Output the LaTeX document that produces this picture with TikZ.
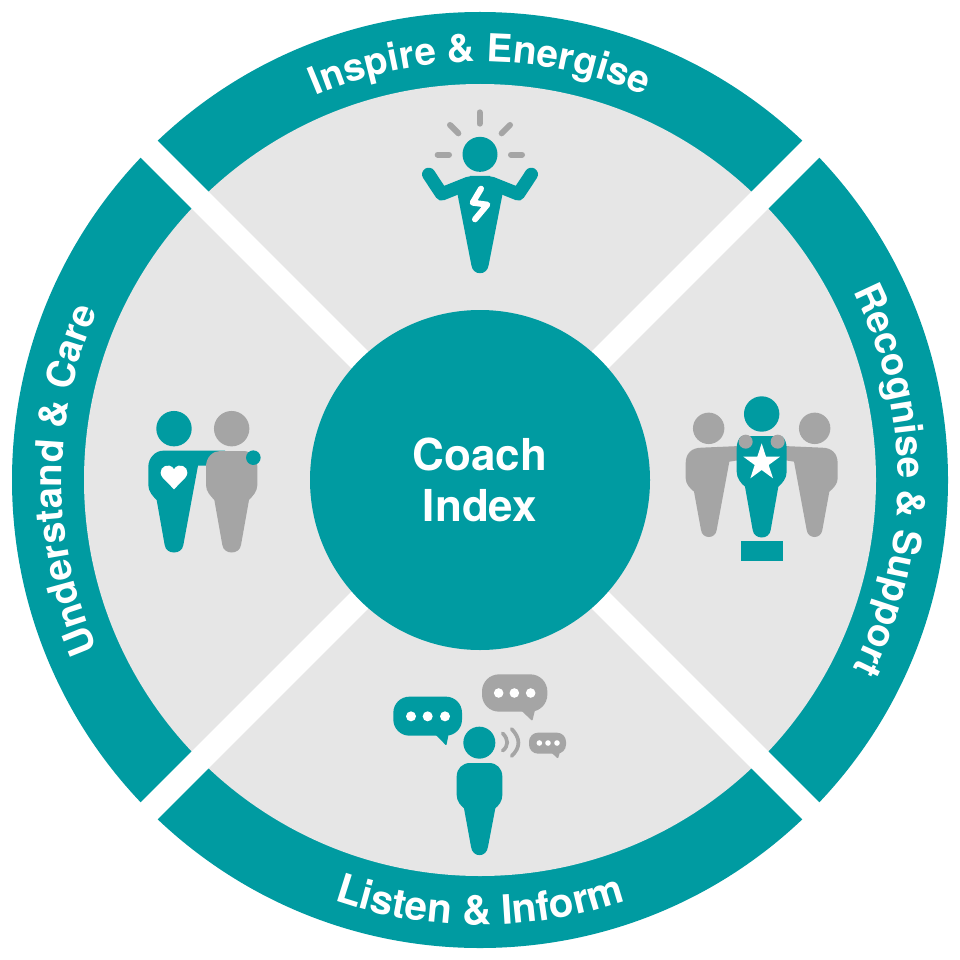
\documentclass[tikz,border=0pt]{standalone}
\usepackage{fontspec}
\setmainfont{TeX Gyre Heros}
\usetikzlibrary{decorations.text}
\definecolor{teal1}{HTML}{009BA1}
\definecolor{gray1}{HTML}{A5A5A5}
\definecolor{disk}{HTML}{E6E6E6}
\newcommand{\ringfont}{\fontsize{38.5}{38.5}\selectfont\bfseries}
\newcommand{\ringfontb}{\fontsize{40.5}{40.5}\selectfont\bfseries}
\newcommand{\ringtext}[5]{%
  \path[decorate,decoration={text along path,text color=white,text align=center,text={|#5|#4}}]
    ({480+#3*cos(#1)},{480-#3*sin(#1)}) arc[start angle=#1,end angle=#2,radius=#3 pt];}
\tikzset{
  teal fill/.style={fill=teal1,draw=none},
  band/.style={draw=white,line width=24pt},
  ray/.style={draw=gray1,line width=6pt,line cap=round},
  icon/.style={x=0.33333pt,y=-0.33333pt},
  label/.style={text=white,font=\fontsize{44}{51}\selectfont\bfseries,align=center}
}
\begin{document}
\begin{tikzpicture}[x=1pt,y=-1pt]
\useasboundingbox (0,0) rectangle (960,960);
\fill[white] (0,0) rectangle (960,960);
\fill[teal1] (480,480) circle[radius=468pt];
\fill[disk] (480,480) circle[radius=396pt];
\draw[band] (130,130) -- (830,830);
\draw[band] (830,130) -- (130,830);
\node[circle,teal fill,minimum size=340pt,inner sep=0pt,label] (hub) at (480,480) {Coach\\[0pt]Index};
\ringtext{150}{30}{418}{Inspire {\&} Energise}{\ringfont}
\ringtext{60}{-60}{418}{Recognise {\&} Support}{\ringfont}
\ringtext{240}{120}{418}{Understand {\&} Care}{\ringfont}
\ringtext{-120}{-60}{445}{Listen {\&} Inform}{\ringfontb}

% Inspire icon
\begin{scope}[shift={(400,90)},icon]
\draw[ray] (239,67)--(239,101);
\draw[ray] (150,105)--(175,130);
\draw[ray] (330,105)--(305,130);
\draw[ray] (113,194)--(147,194);
\draw[ray] (333,194)--(366,194);
\fill[teal1] (240,193) circle[radius=17.5pt];
\draw[teal1,line width=13.3pt,line cap=round,line join=round] (86,253)--(125,312)--(205,280)--(275,280)--(355,312)--(394,253);
\fill[teal1] (172,310)--(214,525) .. controls (218,558) and (262,558) .. (266,525)--(308,310)--(270,258)--(210,258)--cycle;
\draw[white,line width=6pt,line cap=round,line join=round] (243,296)--(218,338)--(262,344)--(225,388);
\end{scope}

% Recognise icon
\begin{scope}[shift={(670,380)},icon]
\fill[gray1] (116,145) circle[radius=15.7pt];
\fill[gray1] (434,145) circle[radius=15.7pt];
\fill[gray1] (47,250) .. controls (47,220) and (65,203) .. (95,203) -- (210,198) -- (210,240) -- (178,245) -- (140,450) .. controls (136,478) and (97,478) .. (93,450) -- (72,335) .. controls (60,325) and (47,312) .. (47,295) -- cycle;
\fill[gray1] (503,250) .. controls (503,220) and (485,203) .. (455,203) -- (340,198) -- (340,240) -- (372,245) -- (410,450) .. controls (414,478) and (453,478) .. (457,450) -- (478,335) .. controls (490,325) and (503,312) .. (503,295) -- cycle;
\fill[teal1] (275,102) circle[radius=17.7pt];
\fill[teal1] (215,168) -- (335,168) .. controls (345,175) and (350,190) .. (350,205) -- (350,275) .. controls (350,295) and (337,310) .. (325,320) -- (302,450) .. controls (298,480) and (252,480) .. (248,450) -- (225,320) .. controls (213,310) and (200,295) .. (200,275) -- (200,205) .. controls (200,190) and (205,175) .. (215,168) -- cycle;
\fill[gray1] (227,185) circle[radius=7pt];
\fill[gray1] (323,185) circle[radius=7pt];
\fill[white] (275,190)--(288,230)--(330.2,230)--(296,255)--(309,295)--(275,270)--(241,295)--(254,255)--(219.8,230)--(262,230)--cycle;
\fill[teal1] (212,484) rectangle (340,543);
\end{scope}

% Understand icon
\begin{scope}[shift={(130,395)},icon]
\fill[teal1] (132,101) circle[radius=17.7pt];
\fill[gray1] (305,101) circle[radius=17.7pt];
\fill[teal1] (55,215) .. controls (55,190) and (75,167) .. (100,167) -- (285,167) -- (285,212) -- (204,212) -- (160,450) .. controls (156,480) and (108,480) .. (104,450) -- (80,315) .. controls (68,303) and (55,290) .. (55,270) -- cycle;
\fill[gray1] (228,215) .. controls (228,185) and (250,168) .. (270,168) -- (340,168) .. controls (365,168) and (382,190) .. (382,215) -- (382,270) .. controls (382,290) and (368,303) .. (357,315) -- (333,450) .. controls (329,480) and (281,480) .. (277,450) -- (253,315) .. controls (242,303) and (228,290) .. (228,270) -- cycle;
\fill[teal1] (370,188) circle[radius=7.3pt];
\fill[white] (132,283)--(98,248) .. controls (82,228) and (100,208) .. (118,212) .. controls (125,213) and (130,218) .. (132,223) .. controls (134,218) and (139,213) .. (146,212) .. controls (164,208) and (182,228) .. (166,248) -- cycle;
\end{scope}

% Listen icon
\begin{scope}[shift={(380,660)},icon]
\fill[teal1,rounded corners=16pt] (40,110) rectangle (246,227);
\fill[teal1,rounded corners=1pt] (165,222)--(199,257)--(206,222)--cycle;
\foreach \px in {93,143,195} \fill[white] (\px,169) circle[radius=5pt];
\fill[gray1,rounded corners=17pt] (306,43) rectangle (502,155);
\fill[gray1,rounded corners=1pt] (422,150)--(457,183)--(465,150)--cycle;
\foreach \px in {356,403,452} \fill[white] (\px,99) circle[radius=4.8pt];
\fill[gray1,rounded corners=9pt] (447,218) rectangle (558,281);
\fill[gray1,rounded corners=1pt] (512,276)--(534,296)--(540,276)--cycle;
\foreach \px in {478,504,531} \fill[white] (\px,249) circle[radius=2.8pt];
\draw[gray1,line width=3.7pt,line cap=round] (368,220) .. controls (386,238) and (386,258) .. (368,272);
\draw[gray1,line width=3.7pt,line cap=round] (395,207) .. controls (422,235) and (422,262) .. (395,288);
\fill[teal1] (298,248) circle[radius=16pt];
\fill[teal1] (230,350) .. controls (230,325) and (248,309) .. (270,309) -- (327,309) .. controls (350,309) and (367,325) .. (367,350) -- (367,405) .. controls (367,425) and (355,437) .. (346,445) -- (324,560) .. controls (320,594) and (277,594) .. (273,560) -- (252,445) .. controls (243,437) and (230,425) .. (230,405) -- cycle;
\end{scope}
\end{tikzpicture}
\end{document}
